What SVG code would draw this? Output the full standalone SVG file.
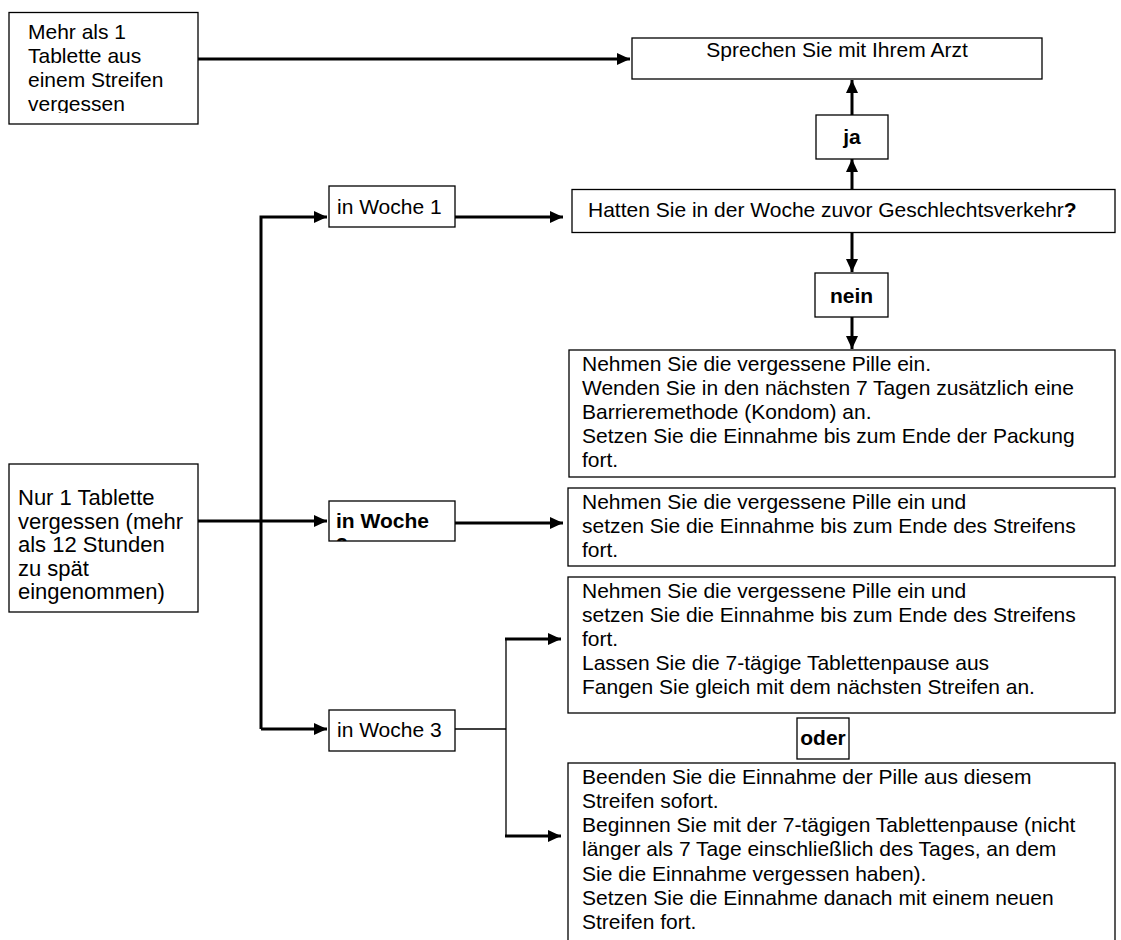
<svg xmlns="http://www.w3.org/2000/svg" width="1121" height="940" viewBox="0 0 1121 940">
<defs>
<style>
.box{fill:#fff;stroke:#000;stroke-width:1.3}
.t{font-family:"Liberation Sans",Arial,sans-serif;font-size:21px;fill:#000}
.big{font-size:22px}
.b{font-weight:bold}
.m{text-anchor:middle}
.c{fill:none;stroke:#000;stroke-width:3;stroke-linejoin:miter}
.thin{fill:none;stroke:#000;stroke-width:1.3}
</style>
<marker id="ah" markerUnits="userSpaceOnUse" markerWidth="14" markerHeight="12" refX="13" refY="6" orient="auto">
<path d="M0,0 L13,6 L0,12 Z" fill="#000"/>
</marker>
<clipPath id="clipA"><rect x="9" y="12" width="189" height="101"/></clipPath>
<clipPath id="clipW2"><rect x="329" y="501" width="126" height="40"/></clipPath>
</defs>
<rect width="1121" height="940" fill="#fff"/>

<g id="connectors">
<line class="c" x1="198" y1="59" x2="630" y2="59" marker-end="url(#ah)"/>
<line class="c" x1="852" y1="115" x2="852" y2="80" marker-end="url(#ah)"/>
<line class="c" x1="852" y1="189" x2="852" y2="159" marker-end="url(#ah)"/>
<line class="c" x1="852" y1="233" x2="852" y2="272" marker-end="url(#ah)"/>
<line class="c" x1="852" y1="317" x2="852" y2="349" marker-end="url(#ah)"/>
<path class="c" d="M261,729 V217 H327" marker-end="url(#ah)"/>
<line class="c" x1="261" y1="729" x2="327" y2="729" marker-end="url(#ah)"/>
<line class="c" x1="198" y1="521" x2="327" y2="521" marker-end="url(#ah)"/>
<line class="c" x1="455" y1="217" x2="563" y2="217" marker-end="url(#ah)"/>
<line class="c" x1="455" y1="523" x2="563" y2="523" marker-end="url(#ah)"/>
<path class="thin" d="M455,729 H506 M506,639 V836"/>
<line class="c" x1="505" y1="639" x2="561" y2="639" marker-end="url(#ah)"/>
<line class="c" x1="505" y1="836" x2="561" y2="836" marker-end="url(#ah)"/>
</g>

<g id="mehr">
<rect class="box" x="9" y="12.5" width="189" height="111.5"/>
<g clip-path="url(#clipA)">
<text class="t" x="28" y="39">Mehr als 1</text>
<text class="t" x="28" y="63">Tablette aus</text>
<text class="t" x="28" y="87">einem Streifen</text>
<text class="t" x="28" y="111">vergessen</text>
</g>
</g>

<g id="arzt">
<rect class="box" x="632" y="38" width="410" height="41"/>
<text class="t m" x="837" y="57">Sprechen Sie mit Ihrem Arzt</text>
</g>

<g id="ja">
<rect class="box" x="816" y="115" width="72" height="44"/>
<text class="t b m" x="852" y="144">ja</text>
</g>

<g id="frage">
<rect class="box" x="572" y="189.5" width="543" height="43"/>
<text class="t" x="588" y="217">Hatten Sie in der Woche zuvor Geschlechtsverkehr<tspan class="b">?</tspan></text>
</g>

<g id="nein">
<rect class="box" x="815" y="273" width="73" height="44"/>
<text class="t b m" x="851.5" y="303">nein</text>
</g>

<g id="woche1-aktion">
<rect class="box" x="569" y="350" width="546" height="127"/>
<text class="t" x="582" y="371">Nehmen Sie die vergessene Pille ein.</text>
<text class="t" x="582" y="395">Wenden Sie in den nächsten 7 Tagen zusätzlich eine</text>
<text class="t" x="582" y="419">Barrieremethode (Kondom) an.</text>
<text class="t" x="582" y="443">Setzen Sie die Einnahme bis zum Ende der Packung</text>
<text class="t" x="582" y="467">fort.</text>
</g>

<g id="woche1">
<rect class="box" x="329" y="186" width="126" height="41"/>
<text class="t" x="337" y="214">in Woche 1</text>
</g>

<g id="nur1">
<rect class="box" x="9" y="464" width="189" height="148"/>
<text class="t big" x="18" y="505">Nur 1 Tablette</text>
<text class="t big" x="18" y="528.5">vergessen (mehr</text>
<text class="t big" x="18" y="552">als 12 Stunden</text>
<text class="t big" x="18" y="575.5">zu spät</text>
<text class="t big" x="18" y="599">eingenommen)</text>
</g>

<g id="woche2">
<rect class="box" x="329" y="501" width="126" height="40"/>
<g clip-path="url(#clipW2)">
<text class="t b" x="336" y="528">in Woche</text>
<text class="t b" x="336" y="552">2</text>
</g>
</g>

<g id="woche2-aktion">
<rect class="box" x="568" y="488" width="547" height="78"/>
<text class="t" x="582" y="509">Nehmen Sie die vergessene Pille ein und</text>
<text class="t" x="582" y="533">setzen Sie die Einnahme bis zum Ende des Streifens</text>
<text class="t" x="582" y="557">fort.</text>
</g>

<g id="woche3">
<rect class="box" x="329" y="710" width="126" height="41"/>
<text class="t" x="337" y="737">in Woche 3</text>
</g>

<g id="woche3-aktion-a">
<rect class="box" x="568" y="577" width="547" height="136"/>
<text class="t" x="582" y="598">Nehmen Sie die vergessene Pille ein und</text>
<text class="t" x="582" y="622">setzen Sie die Einnahme bis zum Ende des Streifens</text>
<text class="t" x="582" y="646">fort.</text>
<text class="t" x="582" y="670">Lassen Sie die 7-tägige Tablettenpause aus</text>
<text class="t" x="582" y="694">Fangen Sie gleich mit dem nächsten Streifen an.</text>
</g>

<g id="oder">
<rect class="box" x="797" y="718" width="52" height="41"/>
<text class="t b m" x="823" y="745">oder</text>
</g>

<g id="woche3-aktion-b">
<rect class="box" x="568" y="763" width="547" height="200"/>
<text class="t" x="582" y="784">Beenden Sie die Einnahme der Pille aus diesem</text>
<text class="t" x="582" y="808">Streifen sofort.</text>
<text class="t" x="582" y="832">Beginnen Sie mit der 7-tägigen Tablettenpause (nicht</text>
<text class="t" x="582" y="856">länger als 7 Tage einschließlich des Tages, an dem</text>
<text class="t" x="582" y="881">Sie die Einnahme vergessen haben).</text>
<text class="t" x="582" y="905">Setzen Sie die Einnahme danach mit einem neuen</text>
<text class="t" x="582" y="929">Streifen fort.</text>
</g>
</svg>
